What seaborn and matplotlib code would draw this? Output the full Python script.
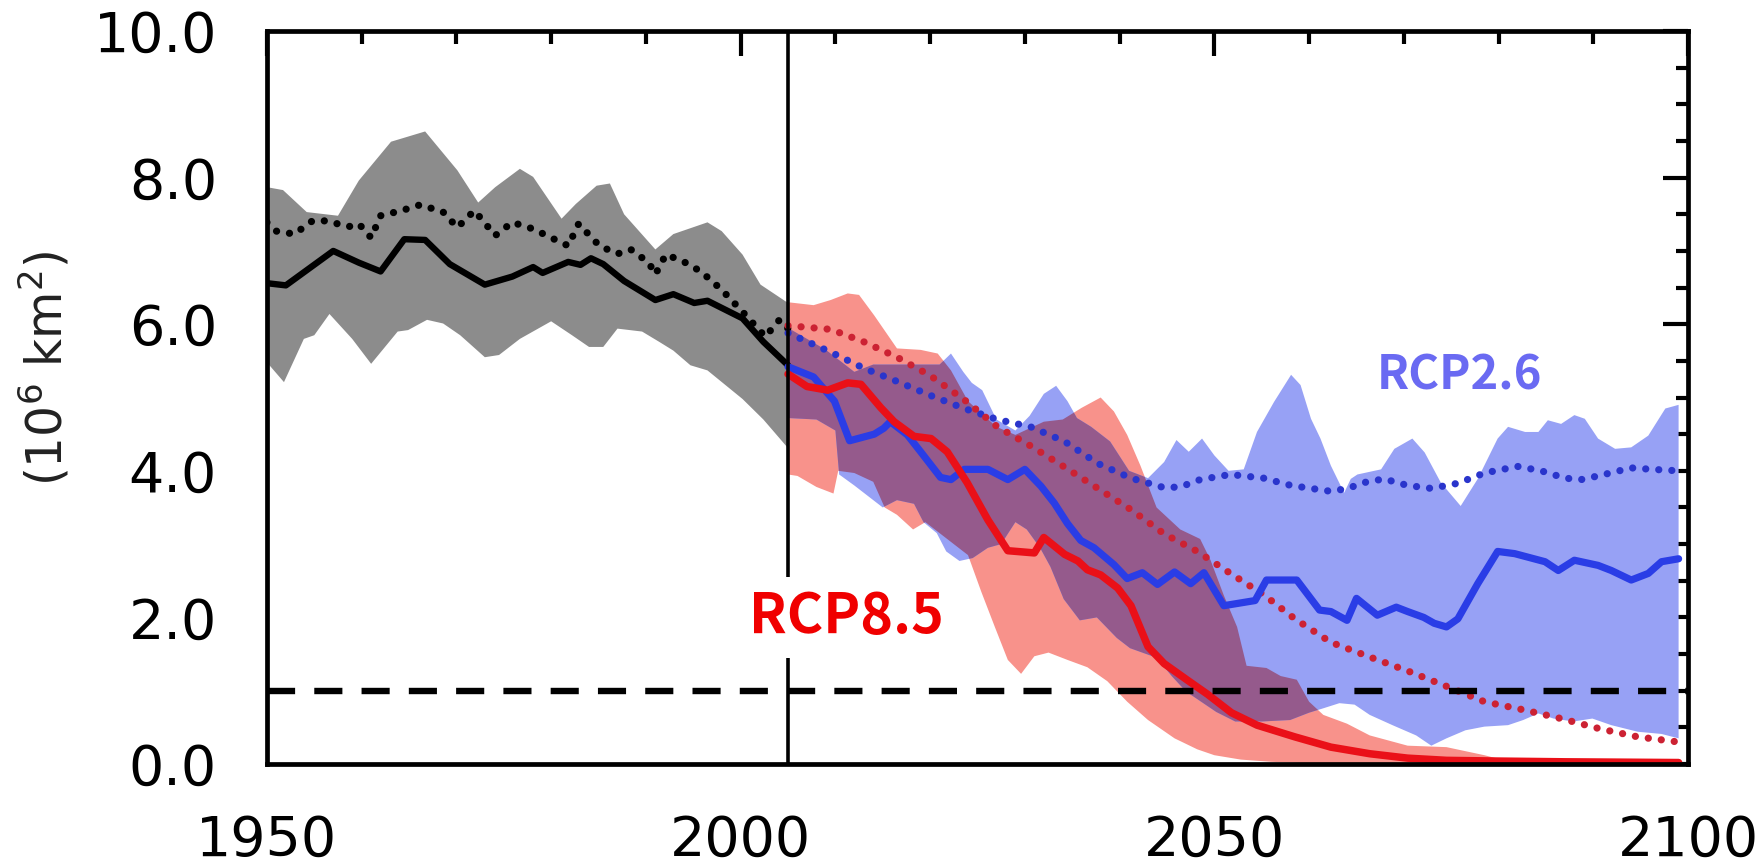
import numpy as np
import matplotlib
matplotlib.use("Agg")
import matplotlib.pyplot as plt
from matplotlib.ticker import MultipleLocator, FixedLocator
import seaborn as sns

# ---------------- historical period (1950-2005) ----------------
hist_mean_x = [1950, 1952, 1957, 1959.7, 1962, 1964.5, 1966.7, 1969.3, 1973, 1975.9, 1978.1, 1979.1,
               1981.8, 1983.1, 1984.2, 1985.5, 1987.7, 1991, 1992.9, 1995.1, 1996.5, 2000.2, 2002.4, 2005]
hist_mean_y = [6.56, 6.53, 7.0, 6.84, 6.72, 7.16, 7.15, 6.82, 6.54, 6.65, 6.78, 6.70,
               6.85, 6.81, 6.90, 6.82, 6.59, 6.33, 6.41, 6.29, 6.32, 6.08, 5.76, 5.44]

hist_sel_x = [1950, 1951, 1952.9, 1954.8, 1956.3, 1958.6, 1959.7, 1961.0, 1962, 1964.2, 1966.2, 1968.6,
              1970.1, 1971.9, 1974.1, 1975.9, 1978.1, 1980, 1981.8, 1982.9, 1985.1, 1987.0, 1988.4,
              1990.3, 1991.0, 1992.1, 1993.9, 1995.8, 1998.0, 2000.2, 2002.6, 2004.1, 2005]
hist_sel_y = [7.39, 7.27, 7.23, 7.41, 7.41, 7.33, 7.37, 7.18, 7.48, 7.55, 7.63, 7.53,
              7.32, 7.55, 7.21, 7.39, 7.30, 7.18, 7.07, 7.37, 7.07, 6.96, 7.02,
              6.84, 6.68, 6.95, 6.86, 6.72, 6.47, 6.17, 5.83, 6.06, 5.94]

hist_hi_x = [1950, 1951.7, 1954.2, 1957.5, 1959.7, 1963.1, 1966.7, 1970.1, 1972.3, 1974.1, 1976.7, 1978.1,
             1981.1, 1982.6, 1984.8, 1986.2, 1987.7, 1991.0, 1992.9, 1996.5, 1998.0, 2000.2, 2002.1, 2005]
hist_hi_y = [7.87, 7.83, 7.53, 7.48, 7.96, 8.49, 8.63, 8.10, 7.66, 7.87, 8.12, 8.01,
             7.44, 7.64, 7.89, 7.92, 7.50, 7.02, 7.23, 7.39, 7.27, 6.95, 6.54, 6.29]
hist_lo_x = [1950, 1951.8, 1953.9, 1955.0, 1956.6, 1959.0, 1961.0, 1963.8, 1964.9, 1966.9, 1968.6, 1970.4,
             1973.0, 1974.5, 1976.7, 1980.0, 1982.2, 1984.0, 1985.5, 1987.0, 1989.6, 1991.4, 1992.9,
             1994.7, 1996.5, 2000.2, 2002.4, 2005]
hist_lo_y = [5.48, 5.21, 5.80, 5.85, 6.14, 5.80, 5.46, 5.90, 5.92, 6.06, 6.01, 5.85,
             5.55, 5.58, 5.80, 6.04, 5.85, 5.69, 5.69, 5.94, 5.90, 5.76, 5.64,
             5.44, 5.37, 4.98, 4.70, 4.31]

# ---------------- RCP8.5 ----------------
rcp85_mean_x = [2005, 2007, 2009.2, 2011.3, 2012.7, 2014.8, 2016.2, 2018.3, 2020.1, 2021.8, 2023.9, 2026.1,
                2028.2, 2031, 2032, 2034.2, 2035.6, 2036.6, 2038, 2039.8, 2041.2, 2043, 2044.7, 2047.2,
                2049.3, 2051.8, 2054.5, 2058.5, 2062.3, 2066.4, 2070.4, 2074.5, 2080, 2087, 2099]
rcp85_mean_y = [5.32, 5.15, 5.10, 5.20, 5.18, 4.86, 4.67, 4.47, 4.44, 4.26, 3.84, 3.33,
                2.91, 2.88, 3.09, 2.86, 2.77, 2.65, 2.58, 2.40, 2.16, 1.60, 1.37, 1.14,
                0.95, 0.70, 0.53, 0.37, 0.23, 0.14, 0.08, 0.05, 0.04, 0.03, 0.02]

rcp85_sel_x = [2005, 2009.5, 2013, 2016.5, 2020, 2023.6, 2027.1, 2030.6, 2034.2, 2037.7, 2041.2, 2044.7,
               2048.2, 2051.7, 2055.2, 2058.5, 2062.3, 2066.4, 2070.4, 2074.5, 2078.5, 2082.6, 2086.6,
               2090.7, 2094.7, 2099]
rcp85_sel_y = [5.98, 5.93, 5.76, 5.55, 5.30, 4.97, 4.60, 4.34, 4.05, 3.76, 3.47, 3.14,
               2.90, 2.60, 2.31, 1.98, 1.66, 1.46, 1.27, 1.06, 0.85, 0.74, 0.62,
               0.48, 0.37, 0.30]

rcp85_hi_x = [2005, 2007.7, 2009.5, 2011.3, 2012.5, 2014.1, 2016.5, 2019, 2020.8, 2022.2, 2024, 2027,
              2029, 2032, 2034, 2036, 2038, 2039.4, 2040.8, 2042.2, 2043.9, 2046.4, 2048.5, 2049.6,
              2051, 2052.4, 2053.4, 2055.5, 2057, 2058.7, 2060, 2061.5, 2064, 2066.4, 2070.4, 2074.5,
              2078.5, 2080, 2085, 2099]
rcp85_hi_y = [6.30, 6.26, 6.33, 6.42, 6.40, 6.12, 5.67, 5.65, 5.60, 5.37, 4.95, 4.60,
              4.49, 4.67, 4.70, 4.86, 5.0, 4.81, 4.49, 4.07, 3.50, 3.20, 3.07, 2.78,
              2.30, 1.87, 1.34, 1.31, 1.20, 1.15, 0.85, 0.67, 0.55, 0.39, 0.25, 0.23,
              0.12, 0.07, 0.02, 0.01]
rcp85_lo_x = [2005, 2006, 2008, 2009.8, 2010.3, 2012, 2014, 2015.2, 2016.5, 2018.2, 2019.5, 2021,
              2022.5, 2024, 2025.4, 2026.8, 2028.2, 2029.6, 2031, 2032.5, 2034.5, 2036.6, 2038.7,
              2040.8, 2043, 2045.8, 2048.2, 2050, 2052.8, 2056, 2060, 2099]
rcp85_lo_y = [3.95, 3.93, 3.78, 3.69, 4.0, 3.97, 3.85, 3.5, 3.4, 3.2, 3.3, 3.15,
              3.0, 2.85, 2.35, 1.88, 1.42, 1.23, 1.47, 1.52, 1.42, 1.32, 1.13,
              0.85, 0.6, 0.35, 0.2, 0.12, 0.06, 0.03, 0.01, 0.0]

# ---------------- RCP2.6 ----------------
rcp26_mean_x = [2005, 2007.7, 2009.9, 2011.5, 2014.1, 2015.1, 2015.8, 2017.6, 2019, 2021.1, 2022.2, 2023.6,
                2026.1, 2028.2, 2030, 2031.7, 2033.1, 2034.5, 2035.9, 2037.3, 2039.4, 2040.8, 2042.4,
                2044, 2045.8, 2047.5, 2048.9, 2051, 2054.3, 2055.5, 2058.7, 2061.1, 2062.3, 2064,
                2065, 2067.2, 2069.2, 2070.4, 2072.1, 2073.2, 2074.5, 2075.7, 2077.8, 2079.9, 2081.7,
                2084.9, 2086.3, 2088, 2090.5, 2091.9, 2094, 2095.8, 2097.2, 2099]
rcp26_mean_y = [5.42, 5.28, 4.95, 4.41, 4.50, 4.58, 4.67, 4.49, 4.26, 3.91, 3.88, 4.02,
                4.02, 3.88, 4.02, 3.79, 3.56, 3.28, 3.05, 2.95, 2.72, 2.53, 2.61,
                2.45, 2.62, 2.46, 2.61, 2.16, 2.23, 2.51, 2.51, 2.10, 2.08, 1.96,
                2.26, 2.03, 2.14, 2.08, 2.0, 1.92, 1.87, 1.98, 2.46, 2.90, 2.87,
                2.76, 2.64, 2.78, 2.71, 2.64, 2.51, 2.6, 2.76, 2.80]

rcp26_sel_x = [2005, 2009.5, 2013, 2016.5, 2020, 2023.6, 2027.1, 2030.6, 2034.2, 2037.7, 2041.2, 2044.7,
               2046.4, 2048.5, 2051.7, 2055.2, 2058.1, 2062.3, 2064.1, 2065.8, 2067.9, 2070.4, 2072.9,
               2075.7, 2078.5, 2082, 2084.5, 2087, 2088.7, 2090.5, 2094, 2096.2, 2099]
rcp26_sel_y = [5.88, 5.62, 5.40, 5.22, 5.03, 4.85, 4.70, 4.60, 4.40, 4.10, 3.90, 3.77,
               3.78, 3.88, 3.95, 3.90, 3.80, 3.72, 3.76, 3.84, 3.89, 3.80, 3.76,
               3.83, 3.97, 4.06, 4.0, 3.90, 3.88, 3.93, 4.04, 4.02, 4.0]

rcp26_hi_x = [2005, 2009, 2012, 2014, 2017, 2021, 2022.2, 2023.5, 2024.4, 2025.5, 2027, 2029,
              2030.5, 2032, 2033.3, 2034.5, 2035.5, 2037, 2039, 2041, 2043, 2044.7, 2046, 2047.3,
              2048.7, 2050, 2051.5, 2053.1, 2054.5, 2056.3, 2058.1, 2059.1, 2060.2, 2061.2, 2062.3,
              2063.7, 2064.4, 2065.1, 2067.6, 2069, 2070.9, 2072.2, 2073.9, 2076, 2077.8, 2079.9,
              2081, 2082.8, 2084.2, 2085.2, 2086.6, 2088, 2089.1, 2090.5, 2092.3, 2094, 2095.8,
              2097.6, 2099]
rcp26_hi_y = [5.95, 5.65, 5.35, 5.45, 5.45, 5.45, 5.6, 5.35, 5.2, 5.1, 4.7, 4.55,
              4.75, 5.05, 5.16, 4.95, 4.72, 4.6, 4.4, 4.0, 3.9, 4.12, 4.42, 4.26,
              4.44, 4.21, 4.0, 4.02, 4.53, 4.94, 5.31, 5.17, 4.71, 4.44, 4.07,
              3.70, 3.89, 3.95, 4.02, 4.30, 4.44, 4.25, 3.84, 3.52, 3.89, 4.44,
              4.60, 4.53, 4.53, 4.69, 4.64, 4.76, 4.71, 4.44, 4.30, 4.32, 4.48,
              4.85, 4.90]
rcp26_lo_x = [2005, 2008, 2010, 2010.4, 2012, 2013.5, 2015, 2016.5, 2018.3, 2019.3, 2020.7, 2021.7,
              2023.1, 2024.5, 2026.1, 2027.5, 2029, 2030.2, 2031.6, 2032.7, 2034.1, 2035.8, 2037.6,
              2039.7, 2041.1, 2043.9, 2045.5, 2047, 2050.2, 2052.2, 2055, 2058, 2060, 2061.5, 2063.2,
              2064.8, 2066.4, 2068.8, 2071.3, 2072.9, 2074.5, 2076.5, 2078.5, 2081, 2082.6, 2084.2,
              2085.8, 2087.9, 2089.9, 2091.9, 2094.7, 2097.2, 2099]
rcp26_lo_y = [4.72, 4.70, 4.55, 3.95, 3.8, 3.65, 3.5, 3.6, 3.55, 3.3, 3.15, 2.9,
              2.77, 2.81, 2.95, 3.0, 3.3, 3.2, 2.95, 2.69, 2.25, 1.96, 2.0,
              1.72, 1.58, 1.45, 1.2, 0.99, 0.71, 0.58, 0.58, 0.6, 0.7, 0.76, 0.83,
              0.81, 0.67, 0.53, 0.39, 0.25, 0.35, 0.46, 0.51, 0.53, 0.6, 0.69,
              0.62, 0.58, 0.62, 0.53, 0.44, 0.41, 0.35]

threshold = 1.0
split_year = 2005
x_ticks = [1950, 2000, 2050, 2100]
y_ticks = [0, 2, 4, 6, 8, 10]
y_tick_labels = ["0.0", "2.0", "4.0", "6.0", "8.0", "10.0"]

# ---------------- style ----------------
sns.set_theme(style="white")
plt.rcParams["font.family"] = ["DejaVu Sans"]

GREY = "#8c8c8c"
PINK = "#f8928b"
LIGHT_BLUE = "#97a1f5"
PURPLE = "#955a8c"
RED = "#ea1018"
RED_DOT = "#cc2233"
BLUE = "#2a3de6"
BLUE_DOT = "#2a35cc"

fig = plt.figure(figsize=(17.63, 8.67), dpi=100)
ax = fig.add_axes([0.1514, 0.1188, 0.8061, 0.8454])


def band(x_hi, y_hi, x_lo, y_lo, color, z):
    xs = np.r_[np.asarray(x_hi, float), np.asarray(x_lo, float)[::-1]]
    ys = np.r_[np.asarray(y_hi, float), np.asarray(y_lo, float)[::-1]]
    return ax.fill(xs, ys, color=color, lw=0, zorder=z)[0]


band(hist_hi_x, hist_hi_y, hist_lo_x, hist_lo_y, GREY, 1)
band(rcp85_hi_x, rcp85_hi_y, rcp85_lo_x, rcp85_lo_y, PINK, 1)
blue_patch = band(rcp26_hi_x, rcp26_hi_y, rcp26_lo_x, rcp26_lo_y, LIGHT_BLUE, 2)
# overlap of the two scenario ranges
overlap = band(rcp85_hi_x, rcp85_hi_y, rcp85_lo_x, rcp85_lo_y, PURPLE, 3)
overlap.set_clip_path(blue_patch)

dot = (0, (0.01, 1.8))
line_kw = dict(ax=ax, estimator=None, sort=False, legend=False)
sns.lineplot(x=hist_mean_x, y=hist_mean_y, color="black", linewidth=4.6, zorder=5, **line_kw)
sns.lineplot(x=hist_sel_x, y=hist_sel_y, color="black", linewidth=5.2, linestyle=dot,
             dash_capstyle="round", zorder=5, **line_kw)
sns.lineplot(x=rcp26_sel_x, y=rcp26_sel_y, color=BLUE_DOT, linewidth=5.2, linestyle=dot,
             dash_capstyle="round", zorder=5, **line_kw)
sns.lineplot(x=rcp85_sel_x, y=rcp85_sel_y, color=RED_DOT, linewidth=5.2, linestyle=dot,
             dash_capstyle="round", zorder=5, **line_kw)
sns.lineplot(x=rcp26_mean_x, y=rcp26_mean_y, color=BLUE, linewidth=5.2, zorder=6, **line_kw)
sns.lineplot(x=rcp85_mean_x, y=rcp85_mean_y, color=RED, linewidth=5.4, zorder=6, **line_kw)

ax.axhline(threshold, color="black", lw=4.6, dashes=(4.4, 3.0), dash_capstyle="butt", zorder=7)
ax.axvline(split_year, color="black", lw=2.6, zorder=7)

ax.text(2011.2, 2.0, "RCP8.5", color="#f00000", fontsize=40, fontweight="bold",
        family=["Noto Sans CJK SC", "DejaVu Sans"], ha="center", va="center", zorder=9,
        bbox=dict(facecolor="white", edgecolor="none", pad=9))
ax.text(2075.9, 5.3, "RCP2.6", color="#6a6af2", fontsize=34, fontweight="bold",
        family=["Noto Sans CJK SC", "DejaVu Sans"], ha="center", va="center", zorder=9)

ax.set_xlim(1950, 2100)
ax.set_ylim(0, 10)
ax.xaxis.set_major_locator(FixedLocator(x_ticks))
ax.xaxis.set_minor_locator(MultipleLocator(10))
ax.yaxis.set_major_locator(FixedLocator(y_ticks))
ax.set_yticklabels(y_tick_labels)
ax.yaxis.set_minor_locator(MultipleLocator(0.5))
ax.tick_params(which="both", direction="in", top=True, right=True, colors="black", width=3.0)
ax.tick_params(which="major", length=18, labelsize=40, pad=36)
ax.tick_params(which="minor", length=9)
for s in ax.spines.values():
    s.set_color("black")
    s.set_linewidth(3.4)
    s.set_zorder(10)

ax.set_xlabel("")
ax.set_ylabel("(10$^6$ km$^2$)", fontsize=35, color="#222222")
ax.yaxis.set_label_coords(-0.137, 0.54)

fig.savefig("out.png", dpi=100, facecolor="white")
